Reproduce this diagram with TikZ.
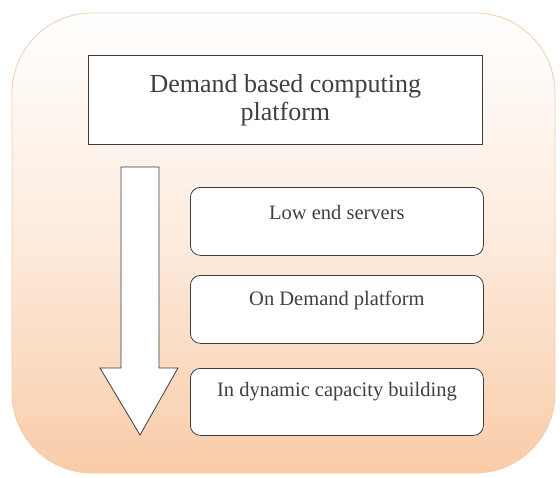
\documentclass[tikz,border=0pt]{standalone}
\usepackage{fontspec}
\setmainfont{Liberation Serif}
\usetikzlibrary{calc}
\usetikzlibrary{positioning}
\definecolor{peach}{RGB}{249,204,168}
\definecolor{peachline}{RGB}{244,205,172}
\definecolor{boxline}{RGB}{60,60,60}
\tikzset{
  stepbox/.style={draw=boxline, thick, fill=white, rounded corners=10pt,
    minimum width=293pt, minimum height=68pt, anchor=north west},
  steptext/.style={font=\fontsize{20.5}{24}\selectfont, text=black!75, anchor=base}
}

\begin{document}
\begin{tikzpicture}[x=1pt, y=-1pt]
\useasboundingbox (0,0) rectangle (560,477);
\draw[peachline, thick, rounded corners=80pt, top color=white, bottom color=peach, middle color=peach!40]
  (12,13) rectangle (555,473);
\node[draw=boxline, thick, fill=white, minimum width=394pt, minimum height=89pt, anchor=north west,
  align=center, font=\fontsize{26}{28}\selectfont, text=black!75] (title) at (88,55)
  {Demand based computing\\platform};
% arrow
\draw[boxline, thick, fill=white] (121,167) -- (159,167) -- (159,368) -- (178,368) -- (140,435)
  -- (100,368) -- (121,368) -- cycle;
% steps
\node[stepbox] (low) at (190,187) {};
\node[stepbox] (ondemand) at (190,275) {};
\node[stepbox, minimum height=67pt] (dynamic) at (190,368) {};
\node[steptext] (lowtext) at ($(low.north)+(0,32)$) {Low end servers};
\node[steptext] (ondemandtext) at ($(ondemand.north)+(0,30)$) {On Demand platform};
\node[steptext] (dynamictext) at ($(dynamic.north)+(0,28)$) {In dynamic capacity building};
\end{tikzpicture}
\end{document}
